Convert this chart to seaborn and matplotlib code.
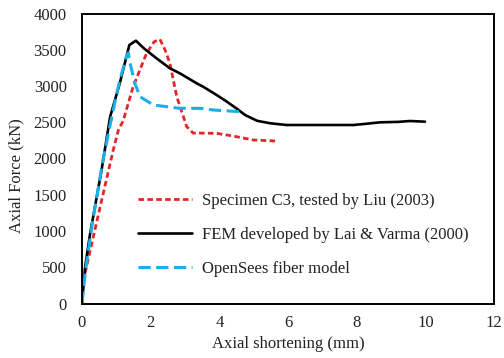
import matplotlib
matplotlib.use("Agg")
import matplotlib.pyplot as plt
import seaborn as sns
import pandas as pd

# Data
test_x = [0.09, 0.33, 0.6, 0.91, 1.06, 1.2, 1.49, 1.88, 2.1, 2.27, 2.42, 2.56, 2.76, 3.05, 3.24, 3.5, 3.92, 4.4, 4.99, 5.67]
test_y = [420, 922, 1480, 2117, 2393, 2520, 2990, 3451, 3610, 3644, 3497, 3313, 2852, 2439, 2350, 2350, 2347, 2310, 2255, 2241]

fem_x = [0, 0.09, 0.23, 0.57, 0.82, 1.1, 1.38, 1.57, 1.8, 2.17, 2.56, 2.85, 3.34, 3.53, 3.92, 4.2, 4.5, 4.75, 5.1, 5.48, 5.96, 7.9, 8.3, 8.68, 9.2, 9.55, 9.99]
fem_y = [0, 500, 945, 1841, 2577, 3037, 3566, 3625, 3520, 3382, 3244, 3175, 3037, 2990, 2876, 2790, 2690, 2600, 2520, 2486, 2462, 2462, 2480, 2499, 2505, 2517, 2508]

os_x = [0, 0.1, 0.3, 0.6, 0.9, 1.1, 1.3, 1.35, 1.40, 1.54, 1.69, 2.08, 2.85, 3.44, 3.82, 4.6]
os_y = [0, 450, 1100, 1950, 2650, 3080, 3420, 3455, 3313, 3037, 2852, 2738, 2692, 2692, 2669, 2646]

labels = ["Specimen C3, tested by Liu (2003)",
          "FEM developed by Lai & Varma (2000)",
          "OpenSees fiber model"]
x_ticks = [0, 2, 4, 6, 8, 10, 12]
y_ticks = [0, 500, 1000, 1500, 2000, 2500, 3000, 3500, 4000]

sns.set_style("white")
plt.rcParams['font.family'] = ['Liberation Serif', 'DejaVu Serif']

fig = plt.figure(figsize=(5.04, 3.58), dpi=100)
ax = fig.add_axes([82/504, 1-303.5/358, 412/504, 290/358])

df1 = pd.DataFrame({"x": test_x, "y": test_y})
df2 = pd.DataFrame({"x": fem_x, "y": fem_y})
df3 = pd.DataFrame({"x": os_x, "y": os_y})

sns.lineplot(data=df1, x="x", y="y", sort=False, ax=ax, color="#E5252A", lw=2.0,
             linestyle=(0, (2.0, 1.2)), label=labels[0])
sns.lineplot(data=df2, x="x", y="y", sort=False, ax=ax, color="black", lw=1.9,
             label=labels[1])
sns.lineplot(data=df3, x="x", y="y", sort=False, ax=ax, color="#1AAFE6", lw=2.2,
             linestyle=(0, (4.0, 1.8)), label=labels[2])

ax.set_xlim(0, 12)
ax.set_ylim(0, 4000)
ax.set_xticks(x_ticks)
ax.set_yticks(y_ticks)
ax.tick_params(direction="in", length=4, width=1.2, colors="black", labelsize=12,
               labelcolor="#222222")
ax.tick_params(axis="y", pad=11)
ax.tick_params(axis="x", pad=8)
for s in ax.spines.values():
    s.set_color("black")
    s.set_linewidth(1.4)

ax.set_xlabel("Axial shortening (mm)", fontsize=12, color="#222222")
ax.set_ylabel("Axial Force (kN)", fontsize=12, color="#222222")
ax.xaxis.set_label_coords(0.5, -0.112)
ax.yaxis.set_label_coords(-0.14, 0.44)

leg = ax.legend(loc="upper left", bbox_to_anchor=(0.115, 0.409), frameon=False,
                fontsize=12, handlelength=3.25, handletextpad=0.6,
                labelspacing=1.07, borderpad=0)
for t in leg.get_texts():
    t.set_color("#222222")

fig.savefig("out.png", dpi=100)
